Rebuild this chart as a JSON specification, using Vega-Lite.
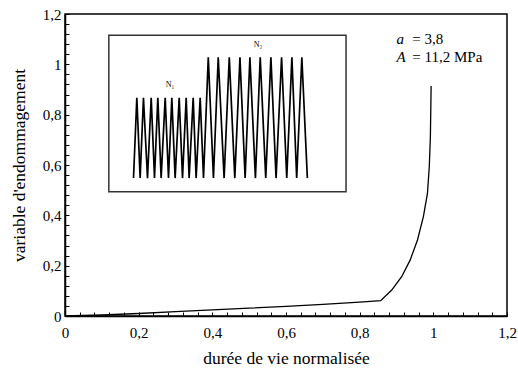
{
  "$schema": "https://vega.github.io/schema/vega-lite/v6.json",
  "width": 442,
  "height": 302,
  "autosize": {"type": "none"},
  "padding": {"left": 65, "top": 14, "right": 11, "bottom": 62},
  "background": "white",
  "config": {
    "view": {"stroke": "black", "strokeWidth": 1.5},
    "font": "Liberation Serif, Times New Roman, serif",
    "axis": {
      "labelFont": "Liberation Serif, Times New Roman, serif",
      "titleFont": "Liberation Serif, Times New Roman, serif",
      "labelFontSize": 15,
      "titleFontSize": 17.5,
      "titleFontWeight": "normal",
      "labelColor": "black",
      "titleColor": "black",
      "domainColor": "black",
      "domainWidth": 1.5,
      "tickColor": "black",
      "tickWidth": 1,
      "grid": false
    }
  },
  "datasets": {
    "curve": [
      {"x": 0, "y": 0}, {"x": 0.1, "y": 0.004}, {"x": 0.2, "y": 0.01}, {"x": 0.3, "y": 0.017},
      {"x": 0.4, "y": 0.024}, {"x": 0.5, "y": 0.031}, {"x": 0.6, "y": 0.038}, {"x": 0.7, "y": 0.046},
      {"x": 0.8, "y": 0.055}, {"x": 0.857, "y": 0.061}, {"x": 0.887, "y": 0.103}, {"x": 0.914, "y": 0.156},
      {"x": 0.937, "y": 0.222}, {"x": 0.957, "y": 0.302}, {"x": 0.973, "y": 0.395}, {"x": 0.984, "y": 0.487},
      {"x": 0.989, "y": 0.593}, {"x": 0.992, "y": 0.712}, {"x": 0.994, "y": 0.914}
    ],
    "signal": [
      {"i": 0, "x": 0.186, "y": 0.548}, {"i": 1, "x": 0.195, "y": 0.867}, {"i": 2, "x": 0.204, "y": 0.548},
      {"i": 3, "x": 0.213, "y": 0.867}, {"i": 4, "x": 0.224, "y": 0.548}, {"i": 5, "x": 0.234, "y": 0.867},
      {"i": 6, "x": 0.243, "y": 0.548}, {"i": 7, "x": 0.252, "y": 0.867}, {"i": 8, "x": 0.261, "y": 0.548},
      {"i": 9, "x": 0.272, "y": 0.867}, {"i": 10, "x": 0.281, "y": 0.548}, {"i": 11, "x": 0.29, "y": 0.867},
      {"i": 12, "x": 0.299, "y": 0.548}, {"i": 13, "x": 0.31, "y": 0.867}, {"i": 14, "x": 0.319, "y": 0.548},
      {"i": 15, "x": 0.329, "y": 0.867}, {"i": 16, "x": 0.337, "y": 0.548}, {"i": 17, "x": 0.348, "y": 0.867},
      {"i": 18, "x": 0.356, "y": 0.548}, {"i": 19, "x": 0.367, "y": 0.867}, {"i": 20, "x": 0.376, "y": 0.548},
      {"i": 21, "x": 0.389, "y": 1.028}, {"i": 22, "x": 0.403, "y": 0.548}, {"i": 23, "x": 0.416, "y": 1.028},
      {"i": 24, "x": 0.432, "y": 0.548}, {"i": 25, "x": 0.446, "y": 1.028}, {"i": 26, "x": 0.461, "y": 0.548},
      {"i": 27, "x": 0.475, "y": 1.028}, {"i": 28, "x": 0.489, "y": 0.548}, {"i": 29, "x": 0.502, "y": 1.028},
      {"i": 30, "x": 0.517, "y": 0.548}, {"i": 31, "x": 0.53, "y": 1.028}, {"i": 32, "x": 0.545, "y": 0.548},
      {"i": 33, "x": 0.559, "y": 1.028}, {"i": 34, "x": 0.573, "y": 0.548}, {"i": 35, "x": 0.588, "y": 1.028},
      {"i": 36, "x": 0.602, "y": 0.548}, {"i": 37, "x": 0.616, "y": 1.028}, {"i": 38, "x": 0.629, "y": 0.548},
      {"i": 39, "x": 0.643, "y": 1.028}, {"i": 40, "x": 0.658, "y": 0.548}
    ]
  },
  "layer": [
    {
      "data": {"values": [{"x": 0.119, "x2": 0.763, "y": 1.116, "y2": 0.494}]},
      "mark": {"type": "rect", "fill": null, "stroke": "#333333", "strokeWidth": 1.5},
      "encoding": {
        "x": {
          "field": "x", "type": "quantitative",
          "scale": {"domain": [0, 1.2], "nice": false, "zero": false},
          "axis": {
            "title": "durée de vie normalisée",
            "values": [0,0.04,0.08,0.12,0.16,0.2,0.24,0.28,0.32,0.36,0.4,0.44,0.48,0.52,0.56,0.6,0.64,0.68,0.72,0.76,0.8,0.84,0.88,0.92,0.96,1,1.04,1.08,1.12,1.16,1.2],
            "tickCount": 100,
            "labelExpr": "abs(datum.value*5-round(datum.value*5))<0.001 ? replace(format(datum.value,'~g'),'.',',') : ''",
            "tickSize": -4,
            "labelPadding": 13,
            "titlePadding": 9,
            "labelFlush": false,
            "labelOverlap": false
          }
        },
        "x2": {"field": "x2"},
        "y": {
          "field": "y", "type": "quantitative",
          "scale": {"domain": [0, 1.2], "nice": false, "zero": false},
          "axis": {
            "title": "variable d'endommagement",
            "values": [0,0.04,0.08,0.12,0.16,0.2,0.24,0.28,0.32,0.36,0.4,0.44,0.48,0.52,0.56,0.6,0.64,0.68,0.72,0.76,0.8,0.84,0.88,0.92,0.96,1,1.04,1.08,1.12,1.16,1.2],
            "tickCount": 100,
            "labelExpr": "abs(datum.value*5-round(datum.value*5))<0.001 ? replace(format(datum.value,'~g'),'.',',') : ''",
            "tickSize": -4,
            "labelPadding": 8,
            "titlePadding": 14,
            "labelFlush": false,
            "labelOverlap": false
          }
        },
        "y2": {"field": "y2"}
      }
    },
    {
      "data": {"name": "signal"},
      "mark": {"type": "line", "color": "black", "strokeWidth": 1.7, "strokeJoin": "miter"},
      "encoding": {
        "x": {"field": "x", "type": "quantitative"},
        "y": {"field": "y", "type": "quantitative"},
        "order": {"field": "i", "type": "quantitative"}
      }
    },
    {
      "data": {"values": [{"x": 0.285, "y": 0.918, "label": "N₁"}, {"x": 0.524, "y": 1.077, "label": "N₂"}]},
      "mark": {"type": "text", "font": "Liberation Serif, Times New Roman, serif", "fontSize": 8, "color": "black", "align": "center", "baseline": "middle"},
      "encoding": {
        "x": {"field": "x", "type": "quantitative"},
        "y": {"field": "y", "type": "quantitative"},
        "text": {"field": "label"}
      }
    },
    {
      "data": {"name": "curve"},
      "mark": {"type": "line", "color": "black", "strokeWidth": 1.3},
      "encoding": {
        "x": {"field": "x", "type": "quantitative"},
        "y": {"field": "y", "type": "quantitative"}
      }
    },
    {
      "data": {"values": [{"x": 0.9, "y": 1.1, "label": "a"}, {"x": 0.9, "y": 1.029, "label": "A"}]},
      "mark": {"type": "text", "font": "Liberation Serif, Times New Roman, serif", "fontSize": 15, "fontStyle": "italic", "color": "black", "align": "left", "baseline": "middle"},
      "encoding": {
        "x": {"field": "x", "type": "quantitative"},
        "y": {"field": "y", "type": "quantitative"},
        "text": {"field": "label"}
      }
    },
    {
      "data": {"values": [{"x": 0.943, "y": 1.1, "label": "= 3,8"}, {"x": 0.943, "y": 1.029, "label": "= 11,2 MPa"}]},
      "mark": {"type": "text", "font": "Liberation Serif, Times New Roman, serif", "fontSize": 15, "color": "black", "align": "left", "baseline": "middle"},
      "encoding": {
        "x": {"field": "x", "type": "quantitative"},
        "y": {"field": "y", "type": "quantitative"},
        "text": {"field": "label"}
      }
    }
  ]
}
